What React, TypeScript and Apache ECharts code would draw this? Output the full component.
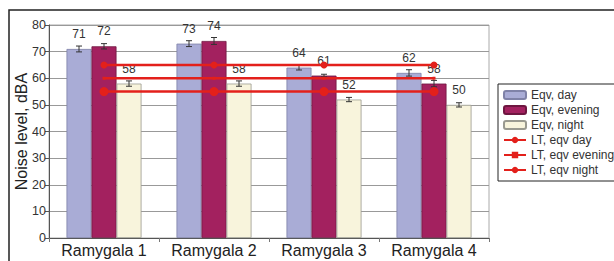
import React, { useEffect, useRef } from "react";
import * as echarts from "echarts";

const categories = ["Ramygala 1", "Ramygala 2", "Ramygala 3", "Ramygala 4"];
const eqvDay = [71, 73, 64, 62];
const eqvEvening = [72, 74, 61, 58];
const eqvNight = [58, 58, 52, 50];
const errDay = [1.1, 1.1, 0.9, 1.2];
const errEvening = [1.0, 1.3, 0.5, 1.2];
const errNight = [1.0, 1.0, 0.8, 0.8];
const ltDay = [65, 65, 65, 65];
const ltEvening = [60, 60, 60, 60];
const ltNight = [55, 55, 55, 55];
const yTicks = [0, 10, 20, 30, 40, 50, 60, 70, 80];

const FONT = "Arial, 'Liberation Sans', sans-serif";
const BAR_W = 25;

function errorSeries(values: number[], errs: number[], slot: number) {
  return {
    type: "custom",
    name: "err" + slot,
    z: 5,
    silent: true,
    data: values.map((v, i) => [i, v, errs[i]]),
    encode: { x: 0, y: 1 },
    renderItem: (params: any, api: any) => {
      const idx = api.value(0);
      const v = api.value(1);
      const e = api.value(2);
      const top = api.coord([idx, v + e]);
      const bot = api.coord([idx, v - e]);
      const cx = top[0] + slot * BAR_W;
      const st = { stroke: "#333", lineWidth: 1 };
      return {
        type: "group",
        children: [
          { type: "line", shape: { x1: cx, y1: top[1], x2: cx, y2: bot[1] }, style: st },
          { type: "line", shape: { x1: cx - 3, y1: top[1], x2: cx + 3, y2: top[1] }, style: st },
          { type: "line", shape: { x1: cx - 3, y1: bot[1], x2: cx + 3, y2: bot[1] }, style: st },
        ],
      };
    },
  };
}

export default function App() {
  const ref = useRef<HTMLDivElement>(null);
  useEffect(() => {
    const chart = echarts.init(ref.current!, null, { renderer: "svg" });
    const barLabel = {
      show: true,
      position: "top",
      distance: 9,
      color: "#333",
      fontSize: 12,
      fontFamily: FONT,
    };
    chart.setOption({
      animation: false,
      textStyle: { fontFamily: FONT },
      graphic: [
        {
          type: "rect",
          shape: { x: 9, y: 10, width: 700, height: 400 },
          style: { fill: "none", stroke: "#222", lineWidth: 1.5 },
          z: -1,
        },
      ],
      legend: {
        orient: "vertical",
        left: 498,
        top: 84,
        padding: [5, 6, 5, 5],
        itemWidth: 22,
        itemHeight: 8,
        itemGap: 3,
        borderColor: "#222",
        borderWidth: 1,
        backgroundColor: "#fff",
        textStyle: { fontSize: 12, color: "#333", fontFamily: FONT },
        data: [
          { name: "Eqv, day" },
          { name: "Eqv, evening" },
          { name: "Eqv, night" },
          { name: "LT, eqv day" },
          { name: "LT, eqv evening" },
          { name: "LT, eqv night" },
        ],
      },
      grid: {
        left: 49,
        top: 25,
        width: 440,
        height: 213,
        show: true,
        borderColor: "#aaa",
        borderWidth: 1,
        backgroundColor: "#fff",
      },
      xAxis: {
        type: "category",
        data: categories,
        axisLine: { lineStyle: { color: "#555", width: 1 } },
        axisTick: { show: true, length: 4, lineStyle: { color: "#777" } },
        axisLabel: { interval: 0, fontSize: 16, color: "#222", margin: 4, fontFamily: FONT },
      },
      yAxis: {
        type: "value",
        min: yTicks[0],
        max: yTicks[yTicks.length - 1],
        interval: 10,
        name: "Noise level, dBA",
        nameLocation: "middle",
        nameGap: 20,
        nameMoveOverlap: false,
        nameTextStyle: { fontSize: 16, color: "#222", fontFamily: FONT },
        axisLine: { show: true, lineStyle: { color: "#555" } },
        axisTick: { show: true, length: 4, lineStyle: { color: "#555" } },
        axisLabel: { fontSize: 12.5, color: "#333", margin: 3, fontFamily: FONT },
        splitLine: { lineStyle: { color: "#999", width: 1 } },
      },
      series: [
        {
          type: "bar",
          name: "Eqv, day",
          data: eqvDay,
          barWidth: BAR_W,
          barGap: "0%",
          itemStyle: { color: "#a9acd6", borderColor: "#7f82a8", borderWidth: 0.8 },
          label: barLabel,
        },
        {
          type: "bar",
          name: "Eqv, evening",
          data: eqvEvening,
          barWidth: BAR_W,
          barGap: "0%",
          itemStyle: { color: "#a3215f", borderColor: "#6e1640", borderWidth: 0.8 },
          label: barLabel,
        },
        {
          type: "bar",
          name: "Eqv, night",
          data: eqvNight,
          barWidth: BAR_W,
          barGap: "0%",
          itemStyle: { color: "#f8f4dc", borderColor: "#9a9a90", borderWidth: 0.8 },
          label: barLabel,
        },
        errorSeries(eqvDay, errDay, -1),
        errorSeries(eqvEvening, errEvening, 0),
        errorSeries(eqvNight, errNight, 1),
        {
          type: "line",
          name: "LT, eqv day",
          data: ltDay,
          z: 10,
          symbol: "circle",
          symbolSize: 7,
          lineStyle: { color: "#e3201b", width: 2.5 },
          itemStyle: { color: "#e3201b" },
        },
        {
          type: "line",
          name: "LT, eqv evening",
          data: ltEvening,
          z: 10,
          symbol: "rect",
          symbolSize: 3,
          lineStyle: { color: "#e3201b", width: 2.5 },
          itemStyle: { color: "#e3201b" },
        },
        {
          type: "line",
          name: "LT, eqv night",
          data: ltNight,
          z: 10,
          symbol: "circle",
          symbolSize: 9,
          lineStyle: { color: "#e3201b", width: 2.5 },
          itemStyle: { color: "#e3201b" },
        },
      ],
    });
    return () => chart.dispose();
  }, []);
  return (
    <div
      ref={ref}
      style={{ position: "absolute", left: 0, top: 0, width: 614, height: 261, background: "#fff" }}
    />
  );
}
